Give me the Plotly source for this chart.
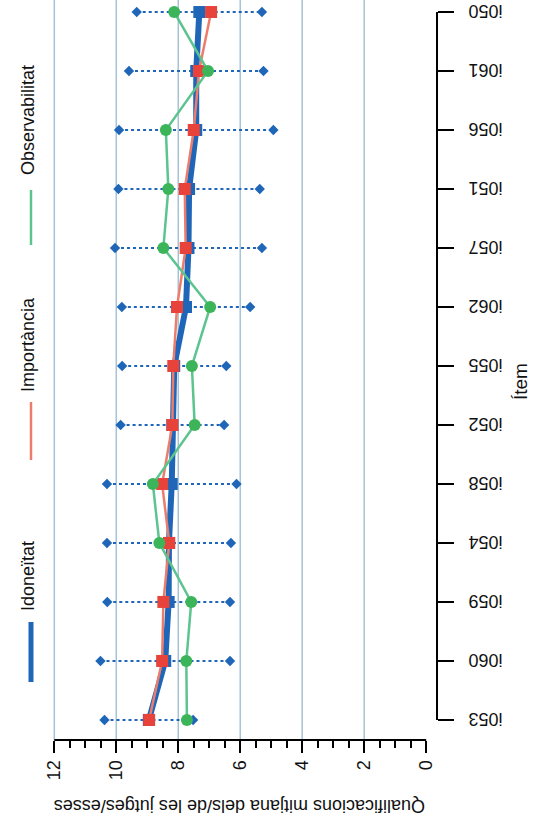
import plotly.graph_objects as go

# ---- data (bottom to top on the item axis) ----
items = ["i053", "i060", "i059", "i054", "i058", "i052", "i055",
         "i062", "i057", "i051", "i056", "i061", "i050"]
idoneitat = [8.95, 8.42, 8.31, 8.30, 8.21, 8.19, 8.13, 7.75, 7.67, 7.65, 7.42, 7.42, 7.32]
idoneitat_sd = [1.43, 2.09, 1.98, 2.00, 2.09, 1.67, 1.68, 2.07, 2.37, 2.28, 2.49, 2.17, 2.02]
importancia = [8.94, 8.52, 8.48, 8.29, 8.52, 8.19, 8.16, 8.04, 7.76, 7.79, 7.50, 7.33, 6.94]
observabilitat = [7.72, 7.74, 7.58, 8.61, 8.82, 7.47, 7.56, 6.97, 8.48, 8.32, 8.40, 7.04, 8.13]
value_ticks = [0, 2, 4, 6, 8, 10, 12]
series_names = ["Idoneïtat", "Importància", "Observabilitat"]
x_title = "Qualificacions mitjana dels/de les jutges/esses"
y_title = "Ítem"

# ---- layout geometry ----
W_FIG, H_FIG = 537, 826
L, R, T, B = 45, 100, 2, 86
PW, PH = W_FIG - L - R, H_FIG - T - B
FONT = "Liberation Sans, Arial, Helvetica, sans-serif"

def px_x(px):
    return (px - L) / PW

def px_y(py):
    return (T + PH - py) / PH

BLUE = "#1f66b8"
RED_M = "#e8433a"
RED_L = "#ec7d6c"
GREEN_M = "#3cb55a"
GREEN_L = "#5cc48e"
GRID = "#a6c3d6"

fig = go.Figure()

# dotted range bars (mean ± sd) for Idoneïtat
bx, by = [], []
for it, m, s in zip(items, idoneitat, idoneitat_sd):
    bx += [m + s, m - s, None]
    by += [it, it, None]
fig.add_trace(go.Scatter(
    x=bx, y=by, mode="lines+markers", showlegend=False, hoverinfo="skip",
    line=dict(color=BLUE, width=2, dash="dot"),
    marker=dict(symbol="diamond", size=8, color=BLUE),
    cliponaxis=False))

fig.add_trace(go.Scatter(
    x=idoneitat, y=items, mode="lines+markers", name=series_names[0],
    line=dict(color=BLUE, width=6),
    marker=dict(symbol="square", size=12, color=BLUE),
    cliponaxis=False))
fig.add_trace(go.Scatter(
    x=importancia, y=items, mode="lines+markers", name=series_names[1],
    line=dict(color=RED_L, width=2.5),
    marker=dict(symbol="square", size=12, color=RED_M),
    cliponaxis=False))
fig.add_trace(go.Scatter(
    x=observabilitat, y=items, mode="lines+markers", name=series_names[2],
    line=dict(color=GREEN_L, width=2.5),
    marker=dict(symbol="circle", size=12, color=GREEN_M),
    cliponaxis=False))

shapes = []
# grid lines (extend to the top edge of the page)
for v in value_ticks:
    if v == 0:
        continue
    shapes.append(dict(type="line", xref="x", yref="paper", x0=v, x1=v, y0=0, y1=px_y(0),
                       line=dict(color=GRID, width=1.5), layer="below"))
# axis lines (R style: span first to last tick)
shapes.append(dict(type="line", xref="x", yref="paper", x0=value_ticks[-1], x1=value_ticks[0],
                   y0=0, y1=0, line=dict(color="black", width=2)))
shapes.append(dict(type="line", xref="paper", yref="y", x0=1, x1=1,
                   y0=0, y1=len(items) - 1, line=dict(color="black", width=2)))

# legend (rotated)
legend_spec = [
    (series_names[2], 120, (190, 245), GREEN_L, 2.5),
    (series_names[1], 345, (402, 460), RED_L, 2.5),
    (series_names[0], 576, (622, 682), BLUE, 5),
]
annotations = []
for name, cy, (ly0, ly1), col, lw in legend_spec:
    annotations.append(dict(text=name, xref="paper", yref="paper", x=px_x(28), y=px_y(cy),
                            textangle=-90, showarrow=False, xanchor="center", yanchor="middle",
                            font=dict(family=FONT, size=18, color="#111")))
    shapes.append(dict(type="line", xref="paper", yref="paper", x0=px_x(31), x1=px_x(31),
                       y0=px_y(ly0), y1=px_y(ly1), line=dict(color=col, width=lw)))

# axis titles
annotations.append(dict(text=x_title, xref="paper", yref="paper", x=px_x(240), y=px_y(806),
                        textangle=180, showarrow=False, xanchor="center", yanchor="middle",
                        font=dict(family=FONT, size=18, color="#111")))
annotations.append(dict(text=y_title, xref="paper", yref="paper", x=px_x(520), y=px_y(382),
                        textangle=-90, showarrow=False, xanchor="center", yanchor="middle",
                        font=dict(family=FONT, size=19, color="#111")))

fig.update_layout(
    width=W_FIG, height=H_FIG,
    margin=dict(l=L, r=R, t=T, b=B),
    paper_bgcolor="white", plot_bgcolor="white",
    showlegend=False,
    font=dict(family=FONT, size=18, color="#111"),
    shapes=shapes, annotations=annotations,
    xaxis=dict(range=[12.3, -0.35], tickvals=value_ticks, ticktext=[str(v) for v in value_ticks],
               ticks="outside", ticklen=12, tickwidth=2, tickcolor="black",
               tickangle=-90, showgrid=False, zeroline=False, showline=False,
               automargin=False, tickfont=dict(size=18),
               minor=dict(tick0=0, dtick=0.5, ticks="outside", ticklen=7, tickwidth=1.5,
                          tickcolor="black", showgrid=False)),
    yaxis=dict(type="category", categoryorder="array", categoryarray=items,
               range=[-0.34, 12.17], side="right",
               ticks="outside", ticklen=16, tickwidth=2, tickcolor="black",
               tickangle=180, showgrid=False, zeroline=False, showline=False,
               automargin=False, ticklabelstandoff=45, ticklabelshift=5,
               tickfont=dict(size=18)),
)

# remove the browser's default 8px page margin so the figure sits at the window origin
fig.write_html("out.html", config={"displayModeBar": False},
               post_script="document.body.style.margin='0';document.body.style.overflow='hidden';")
